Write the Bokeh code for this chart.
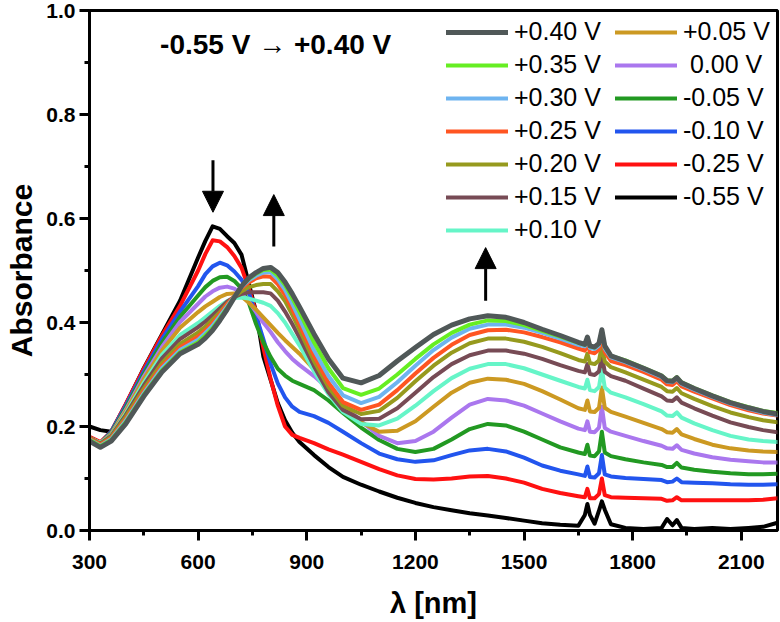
from bokeh.plotting import figure
from bokeh.models import (Legend, LegendItem, Label, Arrow, NormalHead, BoxAnnotation,
                          SingleIntervalTicker, NumeralTickFormatter)
from bokeh.embed import file_html
from bokeh.resources import INLINE

wavelength = [300, 330, 360, 400, 450, 500, 550,
              600, 620, 640, 660, 680, 700, 720, 740, 760, 780, 800, 820, 840, 860, 880,
              920, 960, 1000, 1050, 1100,
              1150, 1200, 1250, 1300, 1350, 1400, 1450, 1500, 1550, 1600,
              1650, 1668, 1675, 1682, 1695, 1707, 1715, 1723, 1740, 1780,
              1830, 1880, 1895, 1910, 1922, 1935, 1970, 2020, 2070, 2120,
              2160, 2200]

p40 = [.172, .160, .172, .205, .258, .305, .340,
       .358, .370, .385, .404, .425, .448, .470, .486, .496, .504, .506, .496, .478, .455, .430,
       .378, .330, .293, .284, .298,
       .326, .352, .377, .395, .407, .413, .410, .400, .387, .375,
       .362, .358, .372, .355, .353, .360, .386, .355, .336, .326,
       .312, .297, .288, .287, .294, .284, .273, .259, .246, .236,
       .229, .224]
p35 = [.174, .162, .174, .208, .261, .308, .343,
       .362, .375, .389, .408, .428, .449, .470, .484, .494, .501, .502, .490, .472, .447, .420,
       .362, .312, .274, .261, .273,
       .300, .330, .358, .380, .396, .404, .403, .395, .384, .373,
       .361, .357, .370, .354, .352, .359, .384, .354, .336, .327,
       .313, .298, .289, .288, .295, .285, .274, .260, .247, .237,
       .230, .226]
p30 = [.175, .163, .176, .211, .264, .312, .347,
       .367, .380, .394, .412, .431, .450, .468, .481, .490, .496, .497, .483, .463, .436, .407,
       .347, .297, .260, .245, .257,
       .285, .317, .347, .371, .388, .396, .396, .390, .380, .369,
       .357, .354, .368, .351, .349, .356, .381, .350, .333, .324,
       .310, .295, .286, .285, .292, .282, .271, .257, .244, .234,
       .227, .222]
p25 = [.177, .165, .178, .214, .268, .316, .352,
       .373, .385, .399, .416, .435, .451, .466, .477, .485, .489, .488, .474, .453, .426, .396,
       .336, .284, .247, .232, .242,
       .270, .302, .332, .357, .376, .385, .386, .381, .372, .362,
       .350, .346, .360, .343, .341, .348, .374, .343, .326, .318,
       .305, .290, .281, .280, .287, .277, .267, .254, .241, .231,
       .225, .221]
p20 = [.178, .166, .180, .218, .273, .322, .359,
       .381, .392, .406, .420, .436, .449, .460, .468, .472, .474, .474, .460, .441, .415, .386,
       .326, .276, .240, .224, .230,
       .255, .287, .317, .342, .360, .369, .369, .363, .353, .341,
       .328, .325, .340, .322, .320, .327, .355, .325, .314, .304,
       .290, .276, .268, .267, .274, .264, .253, .239, .227, .218,
       .212, .208]
p15 = [.178, .167, .182, .222, .279, .331, .368,
       .391, .402, .414, .427, .440, .449, .455, .458, .458, .458, .456, .442, .421, .397, .371,
       .316, .266, .232, .214, .215,
       .235, .265, .295, .320, .337, .346, .346, .340, .330, .318,
       .307, .304, .320, .301, .299, .306, .335, .305, .297, .288,
       .273, .258, .250, .249, .256, .246, .235, .221, .208, .199,
       .193, .189]
p10 = [.178, .168, .183, .225, .284, .338, .376,
       .399, .410, .421, .432, .441, .447, .448, .446, .442, .438, .432, .418, .400, .378, .356,
       .306, .262, .228, .205, .202,
       .215, .240, .268, .293, .311, .320, .320, .312, .300, .288,
       .276, .273, .290, .270, .268, .276, .310, .275, .265, .256,
       .243, .229, .221, .220, .227, .217, .206, .193, .182, .175,
       .172, .170]
p05 = [.178, .168, .185, .229, .291, .346, .390,
       .420, .431, .440, .449, .455, .456, .450, .438, .425, .410, .395, .380, .366, .353, .340,
       .310, .275, .240, .208, .190,
       .192, .210, .238, .265, .284, .292, .290, .282, .268, .252,
       .235, .232, .250, .229, .228, .236, .275, .236, .228, .219,
       .207, .195, .189, .188, .195, .185, .176, .165, .158, .154,
       .152, .151]
z00 = [.177, .168, .186, .232, .296, .353, .401,
       .436, .450, .460, .467, .469, .465, .455, .440, .420, .400, .382, .362, .345, .330, .318,
       .297, .272, .243, .210, .182,
       .168, .172, .190, .217, .242, .253, .250, .240, .225, .210,
       .196, .193, .210, .190, .189, .198, .238, .197, .190, .182,
       .172, .163, .158, .157, .164, .155, .148, .141, .136, .133,
       .131, .131]
m05 = [.177, .168, .188, .236, .301, .361, .411,
       .452, .468, .480, .487, .488, .480, .465, .438, .397, .362, .334, .311, .298, .288, .282,
       .270, .250, .226, .198, .174,
       .157, .151, .157, .175, .195, .205, .202, .190, .175, .160,
       .150, .147, .165, .144, .143, .152, .190, .150, .143, .137,
       .131, .126, .122, .122, .130, .121, .117, .113, .110, .108,
       .108, .109]
m10 = [.178, .168, .190, .240, .306, .368, .421,
       .470, .493, .508, .515, .510, .498, .482, .457, .413, .368, .321, .283, .256, .238, .228,
       .220, .207, .190, .168, .148,
       .137, .132, .135, .145, .154, .157, .152, .140, .125, .115,
       .108, .105, .123, .103, .102, .110, .145, .108, .104, .101,
       .099, .097, .093, .094, .100, .093, .092, .091, .089, .088,
       .088, .089]
m25 = [.180, .170, .190, .243, .311, .375, .432,
       .500, .532, .558, .556, .545, .528, .505, .465, .420, .352, .292, .240, .200, .184, .178,
       .168, .156, .146, .132, .118,
       .106, .099, .098, .100, .104, .105, .100, .092, .080, .072,
       .066, .064, .080, .062, .062, .070, .100, .068, .064, .063,
       .062, .061, .057, .058, .064, .058, .058, .058, .058, .058,
       .059, .062]
m55 = [.200, .193, .190, .242, .312, .377, .442,
       .525, .557, .585, .580, .566, .553, .530, .475, .420, .335, .290, .245, .212, .188, .170,
       .145, .122, .103, .088, .075,
       .063, .053, .045, .039, .033, .029, .024, .019, .014, .011,
       .009, .030, .051, .030, .013, .038, .056, .040, .012, .005,
       .003, .005, .022, .010, .020, .005, .003, .005, .003, .005,
       .007, .015]

labels = ["+0.40 V", "+0.35 V", "+0.30 V", "+0.25 V", "+0.20 V", "+0.15 V",
          "+0.10 V", "+0.05 V", "\u00a00.00 V", "-0.05 V", "-0.10 V",
          "-0.25 V", "-0.55 V"]
colors = ["#505858", "#66EE22", "#6EB4F0", "#FF5522", "#969A1E", "#774B55",
          "#66F5C8", "#CC9922", "#AA77EE", "#229922", "#2255EE", "#FF1111",
          "#000000"]
values = [p40, p35, p30, p25, p20, p15, p10, p05, z00, m05, m10, m25, m55]

x_ticks_interval = 300
y_ticks_interval = 0.2
x_start, x_end = 300, 2200
y_start, y_end = 0.0, 1.0

FONT = "Liberation Sans"

p = figure(width=780, height=622, x_range=(x_start, x_end), y_range=(y_start, y_end),
           output_backend="svg", toolbar_location=None,
           min_border_left=89, min_border_right=3, min_border_top=10,
           min_border_bottom=92)
p.xgrid.visible = False
p.ygrid.visible = False
p.outline_line_color = "black"
p.outline_line_width = 3
p.background_fill_color = "white"
p.border_fill_color = "white"

p.xaxis.ticker = SingleIntervalTicker(interval=x_ticks_interval, num_minor_ticks=2)
p.yaxis.ticker = SingleIntervalTicker(interval=y_ticks_interval, num_minor_ticks=2)
p.yaxis.formatter = NumeralTickFormatter(format="0.0")
p.xaxis.axis_label = "\u03bb [nm]"
p.yaxis.axis_label = "Absorbance"

for ax in (p.xaxis, p.yaxis):
    ax.axis_line_width = 3
    ax.axis_line_color = "black"
    ax.major_tick_line_width = 3
    ax.major_tick_out = 10
    ax.major_tick_in = 0
    ax.minor_tick_line_width = 3
    ax.minor_tick_out = 5
    ax.minor_tick_in = 0
    ax.major_label_text_font = FONT
    ax.major_label_text_font_size = "21px"
    ax.major_label_text_font_style = "bold"
    ax.major_label_text_color = "black"
    ax.axis_label_text_font = FONT
    ax.axis_label_text_font_style = "bold"
    ax.axis_label_text_color = "black"
p.xaxis.axis_label_text_font_size = "29px"
p.yaxis.axis_label_text_font_size = "30px"
p.xaxis.major_label_standoff = 14
p.xaxis.axis_label_standoff = 15
p.yaxis.major_label_standoff = 4
p.yaxis.axis_label_standoff = 5

renderers = {}
for i in reversed(range(len(values))):
    lw = 5 if i == 0 else 4
    r = p.line(wavelength, values[i], line_color=colors[i], line_width=lw,
               line_join="round", line_cap="round")
    renderers[i] = r

# frame box
p.add_layout(BoxAnnotation(left=x_start, right=x_end, bottom=y_start, top=y_end,
                           fill_alpha=0, line_color="black", line_width=3))

items = [LegendItem(label=labels[i], renderers=[renderers[i]]) for i in range(len(values))]
legend = Legend(items=items, location=(357, 286), orientation="vertical", nrows=7,
                glyph_width=62, glyph_height=28, label_height=28, label_width=97,
                label_standoff=6, spacing=4, padding=0, margin=0,
                border_line_color=None, background_fill_alpha=0,
                label_text_font=FONT, label_text_font_size="25px",
                label_text_color="black")
p.add_layout(legend)

title_label = Label(x=495, y=0.935, text="-0.55 V \u2192 +0.40 V", text_font=FONT,
                    text_font_size="28px", text_font_style="bold",
                    text_baseline="middle", text_color="black")
p.add_layout(title_label)

arrows = [(641, 0.712, 641, 0.612), (809, 0.546, 809, 0.646), (1394, 0.442, 1394, 0.544)]
for xs, ys, xe, ye in arrows:
    p.add_layout(Arrow(end=NormalHead(size=21, fill_color="black", line_color="black"),
                       x_start=xs, y_start=ys, x_end=xe, y_end=ye,
                       line_width=3, line_color="black"))

open("out.html", "w").write(file_html(p, INLINE))
